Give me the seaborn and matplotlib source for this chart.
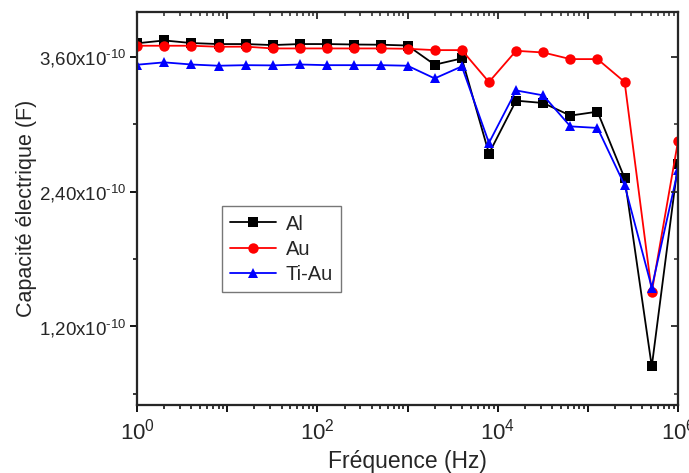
# -*- coding: utf-8 -*-

"""Capacité électrique en fonction de la fréquence (Al, Au, Ti-Au)."""

import math

import matplotlib

matplotlib.use("Agg")
import matplotlib.pylab as plt
import matplotlib.ticker as mticker
import pandas as pd
import seaborn as sns

# Fréquences (Hz)
frequencies = [
    1, 2, 4, 8, 16, 32, 64, 128, 256, 512, 1000,
    2000, 4000, 8000, 16000, 32000, 64000, 128000, 256000, 512000, 1000000,
]

# Capacité (x1e-10 F)
al_values = [
    3.72, 3.745, 3.722, 3.713, 3.713, 3.704, 3.713, 3.713, 3.709, 3.707, 3.70,
    3.529, 3.585, 2.738, 3.209, 3.188, 3.076, 3.111, 2.518, 0.842, 2.649,
]
au_values = [
    3.698, 3.698, 3.698, 3.689, 3.69, 3.674, 3.674, 3.674, 3.674, 3.674, 3.671,
    3.659, 3.659, 3.375, 3.653, 3.638, 3.579, 3.579, 3.375, 1.505, 2.847,
]
tiau_values = [
    3.529, 3.55, 3.531, 3.52, 3.525, 3.523, 3.531, 3.525, 3.525, 3.525, 3.52,
    3.407, 3.514, 2.833, 3.30, 3.256, 2.98, 2.966, 2.456, 1.544, 2.59,
]

series = ["Al", "Au", "Ti-Au"]
colors = {"Al": "black", "Au": "#ff0000", "Ti-Au": "#0000ff"}
markers = {"Al": "s", "Au": "o", "Ti-Au": "^"}

rows = []
for name, values in zip(series, [al_values, au_values, tiau_values]):
    for f, v in zip(frequencies, values):
        rows.append({"freq": f, "cap": v * 1e-10, "sample": name})
df = pd.DataFrame(rows)

sns.set_style("ticks")
plt.rcParams["font.family"] = ["Liberation Sans", "DejaVu Sans"]
plt.rcParams["mathtext.fontset"] = "custom"
plt.rcParams["mathtext.rm"] = "Liberation Sans"
plt.rcParams["mathtext.it"] = "Liberation Sans:italic"
plt.rcParams["mathtext.bf"] = "Liberation Sans:bold"

fig = plt.figure(figsize=(6.89, 4.73), dpi=100)
ax = fig.add_axes([0.199, 0.144, 0.785, 0.831])

sns.lineplot(
    data=df, x="freq", y="cap", hue="sample", style="sample",
    hue_order=series, style_order=series, palette=colors,
    markers=markers, dashes=False, markersize=7.5, linewidth=1.3,
    markeredgewidth=0, ax=ax, legend=False,
)

ax.set_xscale("log")
ax.set_xlim(1, 1e6)
ax.set_ylim(0.5e-10, 4.0e-10)


def decade_label(x, pos):
    k = int(round(math.log10(x)))
    return f"$10^{{{k}}}$" if k % 2 == 0 else ""


def cap_label(y, pos):
    return ("%.2f" % (y * 1e10)).replace(".", ",") + r"x10$^{\text{-10}}$"


# ticks: x decades, labels on even decades only
decades = [10.0**k for k in range(7)]
ax.xaxis.set_major_locator(mticker.FixedLocator(decades))
ax.xaxis.set_major_formatter(mticker.FuncFormatter(decade_label))
ax.xaxis.set_minor_locator(mticker.LogLocator(base=10, subs=range(2, 10), numticks=20))
ax.xaxis.set_minor_formatter(mticker.NullFormatter())

ax.yaxis.set_major_locator(mticker.MultipleLocator(1.2e-10))
ax.yaxis.set_minor_locator(mticker.MultipleLocator(0.6e-10))
ax.yaxis.set_major_formatter(mticker.FuncFormatter(cap_label))

ax.tick_params(axis="both", which="major", direction="out", length=5, width=1.3,
               color="black")
ax.tick_params(axis="both", which="minor", direction="out", length=3, width=1.1,
               color="black")
ax.tick_params(axis="y", labelsize=13.5, pad=2.5)
ax.tick_params(axis="x", labelsize=16, pad=5)
for spine in ax.spines.values():
    spine.set_linewidth(1.5)
    spine.set_visible(True)

# mirrored ticks on top and right, pointing inward
axt = ax.twiny()
axt.set_xscale("log")
axt.set_xlim(ax.get_xlim())
axt.xaxis.set_major_locator(mticker.FixedLocator(decades))
axt.xaxis.set_minor_locator(mticker.LogLocator(base=10, subs=range(2, 10), numticks=20))
axt.tick_params(axis="x", which="major", direction="in", length=5, width=1.3,
                labeltop=False)
axt.tick_params(axis="x", which="minor", direction="in", length=3, width=1.1)
axt.xaxis.set_minor_formatter(mticker.NullFormatter())

axr = ax.twinx()
axr.set_ylim(ax.get_ylim())
axr.yaxis.set_major_locator(mticker.MultipleLocator(1.2e-10))
axr.yaxis.set_minor_locator(mticker.MultipleLocator(0.6e-10))
axr.tick_params(axis="y", which="major", direction="in", length=5, width=1.3,
                labelright=False)
axr.tick_params(axis="y", which="minor", direction="in", length=3, width=1.1)
for a in (axt, axr):
    for spine in a.spines.values():
        spine.set_linewidth(1.5)

ax.set_xlabel("Fréquence (Hz)", fontsize=16.5)
ax.xaxis.set_label_coords(0.5, -0.115)
ax.set_ylabel("Capacité électrique (F)", fontsize=15.5)
ax.yaxis.set_label_coords(-0.185, 0.5)

handles = [
    plt.Line2D([], [], color=colors[s], marker=markers[s], markersize=7.5,
               markeredgewidth=0, linewidth=1.3, label=s)
    for s in series
]
leg = ax.legend(
    handles=handles, loc="lower left", bbox_to_anchor=(0.157, 0.288),
    fontsize=14.5, frameon=True, fancybox=False, handlelength=2.3,
    handletextpad=0.45, labelspacing=0.3, borderpad=0.4, borderaxespad=0,
)
leg.get_frame().set_edgecolor("#555555")
leg.get_frame().set_linewidth(1.0)

plt.savefig("out.png", dpi=100)
